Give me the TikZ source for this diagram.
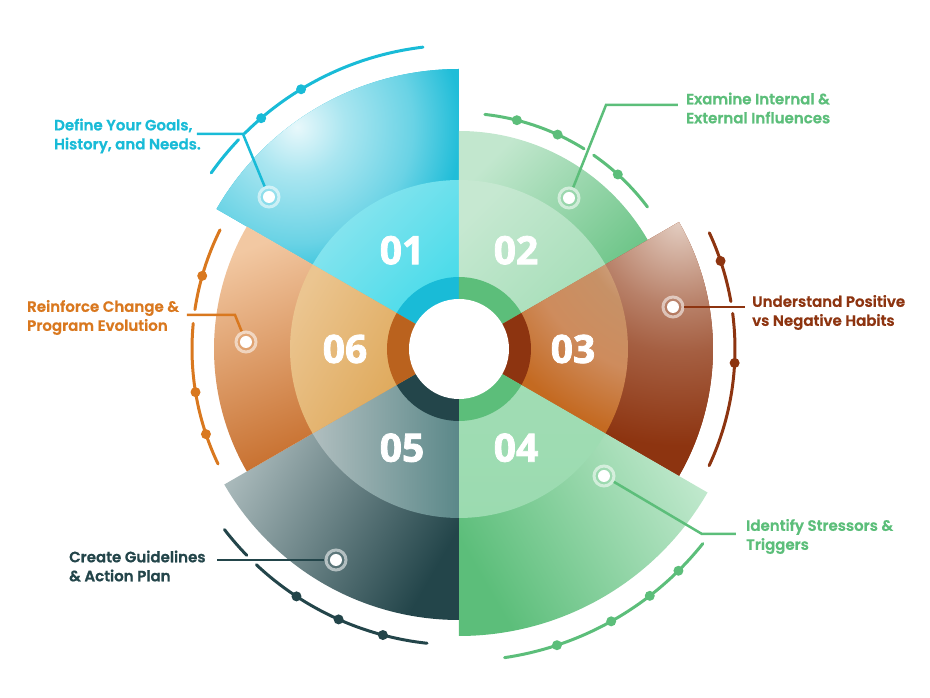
\documentclass[tikz,border=0pt]{standalone}
\usepackage{fontspec}
\setmainfont{Poppins}[BoldFont={Poppins SemiBold}, BoldFeatures={FakeBold=0.8}]
\newfontfamily\numfont{Open Sans}[BoldFeatures={FakeBold=2}]
\usetikzlibrary{positioning}

%% colours
\definecolor{cyanL}{HTML}{E8F8FB}  \definecolor{cyanA}{HTML}{19BBD7}
\definecolor{cyanIL}{HTML}{8DE5EF} \definecolor{cyanI}{HTML}{40DAE9}
\definecolor{grnL}{HTML}{C2E7CE}   \definecolor{grnA}{HTML}{5CBE7A}
\definecolor{grnIL}{HTML}{C6E8D1}  \definecolor{grnI}{HTML}{A2DDB5}
\definecolor{grnBL}{HTML}{CBEDD6}  \definecolor{grnBI}{HTML}{9BDBB0}
\definecolor{brnL}{HTML}{E3CDC1}   \definecolor{brnA}{HTML}{8D3410}
\definecolor{tealL}{HTML}{B8C6C7}  \definecolor{tealA}{HTML}{23454A}
\definecolor{tealIL}{HTML}{B0BEBF} \definecolor{tealI}{HTML}{5B8889}
\definecolor{orgL}{HTML}{F2C8A2}   \definecolor{orgA}{HTML}{C0601A}
\definecolor{orgIL}{HTML}{EBC590}  \definecolor{orgI}{HTML}{DBA04A}
\definecolor{orgR}{HTML}{BA621E}   \definecolor{orgT}{HTML}{D9781F}

%% glow shadings (25bp = circle radius)
\pgfdeclareradialshading{cyanglow}{\pgfpointorigin}{color(0bp)=(cyanL); color(6bp)=(cyanL!70!cyanA); color(14.5bp)=(cyanA!65!white); color(20.5bp)=(cyanA!97!white); color(25bp)=(cyanA); color(50bp)=(cyanA)}
\pgfdeclareradialshading{brnglow}{\pgfpointorigin}{color(0bp)=(brnL); color(8bp)=(brnA!50!brnL); color(12.5bp)=(brnA!72!brnL); color(21.5bp)=(brnA); color(50bp)=(brnA)}
\pgfdeclareradialshading{brninner}{\pgfpointorigin}{color(0bp)=(brnL!80!white); color(9.5bp)=(brnL!55!orgI!70!brnA); color(15bp)=(orgA!60!brnL); color(21bp)=(orgA!85!orgI); color(50bp)=(orgA!85!orgI)}

\newcommand{\sectorpath}[3]{(0,0) -- (#1:#3) arc[start angle=#1, end angle=#2, radius=#3] -- cycle}

\begin{document}
\begin{tikzpicture}[x=1pt,y=1pt,
    numtext/.style={text=white, font=\numfont\bfseries\fontsize{39}{39}\selectfont},
    infotext/.style={font=\bfseries\fontsize{15}{19}\selectfont, align=left, inner sep=0pt},
    marker/.style={circle, minimum size=20, inner sep=0pt, draw=white, draw opacity=0.55, line width=3,
        path picture={\fill[white] (path picture bounding box.center) circle[radius=6];}},
    leader/.style={line width=2.5},
    rim/.style={line width=3, line cap=round}]
    \useasboundingbox (-459,-349) rectangle (471,349);
    %% Outer sectors
    \fill[cyanA] \sectorpath{90}{150}{280};
    \begin{scope}
        \clip \sectorpath{90}{150}{280};
        \shade[shading=cyanglow] (-162,222) circle[radius=200];
    \end{scope}
    \shade[top color=grnL,  bottom color=grnA,  shading angle=45]  \sectorpath{30}{90}{218};
    \fill[brnA] \sectorpath{-30}{30}{254};
    \begin{scope}
        \clip \sectorpath{-30}{30}{254};
        \shade[shading=brnglow] (220,127) circle[radius=260];
    \end{scope}
    \shade[top color=grnBL, bottom color=grnA,  shading angle=-60] \sectorpath{-90}{-30}{287};
    \shade[top color=tealL, bottom color=tealA, shading angle=60]  \sectorpath{-150}{-90}{271};
    \shade[top color=orgL,  bottom color=orgA,  shading angle=22]  \sectorpath{150}{210}{245};
    %% Inner disc
    \shade[top color=cyanIL, middle color=cyanI, bottom color=cyanI, shading angle=45] \sectorpath{90}{150}{169};
    \shade[top color=grnIL,  bottom color=grnI,  shading angle=45]  \sectorpath{30}{90}{169};
    \begin{scope}
        \clip \sectorpath{-30}{30}{169};
        \shade[shading=brninner] (220,127) circle[radius=260];
    \end{scope}
    \shade[top color=grnI,   bottom color=grnBI, shading angle=0]   \sectorpath{-90}{-30}{169};
    \shade[top color=tealIL, bottom color=tealI, shading angle=90]  \sectorpath{-150}{-90}{169};
    \shade[top color=orgIL,  middle color=orgI, bottom color=orgI, shading angle=60] \sectorpath{150}{210}{169};
    %% Hub ring
    \fill[cyanA] \sectorpath{90}{150}{72};
    \fill[grnA]  \sectorpath{30}{90}{72};
    \fill[brnA]  \sectorpath{-30}{30}{72};
    \fill[grnA]  \sectorpath{-90}{-30}{72};
    \fill[tealA] \sectorpath{-150}{-90}{72};
    \fill[orgR]  \sectorpath{150}{210}{72};
    \fill[white] (0,0) circle[radius=50];
    %% Numbers
    \node[numtext] (n1) at (120:114) {01};
    \node[numtext] (n2) at (60:114)  {02};
    \node[numtext] (n3) at (0:114)   {03};
    \node[numtext] (n4) at (-60:114) {04};
    \node[numtext] (n5) at (-120:114) {05};
    \node[numtext] (n6) at (180:114) {06};
    %% Rims with dots
    \draw[rim, cyanA] (96.8:304) arc[start angle=96.8, end angle=134.9, radius=304];
    \draw[rim, cyanA] (136.5:304) arc[start angle=136.5, end angle=144.6, radius=304];
        \foreach \a in {121.3,130.6} \fill[cyanA] (\a:304) circle[radius=5];
    \draw[rim, grnA] (83.7:236) arc[start angle=83.7, end angle=58, radius=236];
    \draw[rim, grnA] (55.2:236) arc[start angle=55.2, end angle=37, radius=236];
        \foreach \a in {75.8,65.3,47.7} \fill[grnA] (\a:236) circle[radius=5];
    \draw[rim, brnA] (24.9:276) arc[start angle=24.9, end angle=9.9, radius=276];
    \draw[rim, brnA] (7.4:276) arc[start angle=7.4, end angle=-25, radius=276];
        \foreach \a in {18.6,-2.9} \fill[brnA] (\a:276) circle[radius=5];
    \draw[rim, grnA] (-38.6:312) arc[start angle=-38.6, end angle=-81.6, radius=312];
        \foreach \a in {-45.3,-52.3,-60.8,-71.7} \fill[grnA] (\a:312) circle[radius=5];
    \draw[rim, tealA] (-142.4:296) arc[start angle=-142.4, end angle=-135.8, radius=296];
    \draw[rim, tealA] (-133.2:296) arc[start angle=-133.2, end angle=-96.2, radius=296];
        \foreach \a in {-123.3,-114,-104.9} \fill[tealA] (\a:296) circle[radius=5];
    \draw[rim, orgT] (153.5:267) arc[start angle=153.5, end angle=171.5, radius=267];
    \draw[rim, orgT] (174.5:267) arc[start angle=174.5, end angle=205.5, radius=267];
        \foreach \a in {164.1,189.3,198.6} \fill[orgT] (\a:267) circle[radius=5];
    %% Markers and leaders
    \node[marker] (m1) at (-190,152) {};
    \node[marker] (m2) at (110,151) {};
    \node[marker] (m3) at (214,42) {};
    \node[marker] (m4) at (145,-127) {};
    \node[marker] (m5) at (-123,-211) {};
    \node[marker] (m6) at (-213,7) {};
    \coordinate (k1) at (-216,215); \coordinate (e1) at (-262,215);
    \coordinate (k2) at (147,244);  \coordinate (e2) at (219,244);
    \coordinate (e3) at (286,42);
    \coordinate (k4) at (243,-185); \coordinate (e4) at (277,-185);
    \coordinate (e5) at (-242,-211);
    \coordinate (k6) at (-224,34);  \coordinate (e6) at (-272,34);
    \draw[leader, cyanA] (m1) -- (k1) -- (e1);
    \draw[leader, grnA]  (m2) -- (k2) -- (e2);
    \draw[leader, brnA]  (m3) -- (e3);
    \draw[leader, grnA]  (m4) -- (k4) -- (e4);
    \draw[leader, tealA] (m5) -- (e5);
    \draw[leader, orgT]  (m6) -- (k6) -- (e6);
    %% Captions
    \node[infotext, text=cyanA, anchor=west] (t1) at (-405,213) {Define Your Goals,\\History, and Needs.};
    \node[infotext, text=grnA,  anchor=west] (t2) at (227,241) {Examine Internal \&\\External Influences};
    \node[infotext, text=brnA,  anchor=west] (t3) at (293,36.5) {Understand Positive\\vs Negative Habits};
    \node[infotext, text=grnA,  anchor=west] (t4) at (287,-187.5) {Identify Stressors \&\\Triggers};
    \node[infotext, text=tealA, anchor=west] (t5) at (-390,-217) {Create Guidelines\\\& Action Plan};
    \node[infotext, text=orgT,  anchor=west] (t6) at (-432,31.5) {Reinforce Change \&\\Program Evolution};
\end{tikzpicture}
\end{document}
